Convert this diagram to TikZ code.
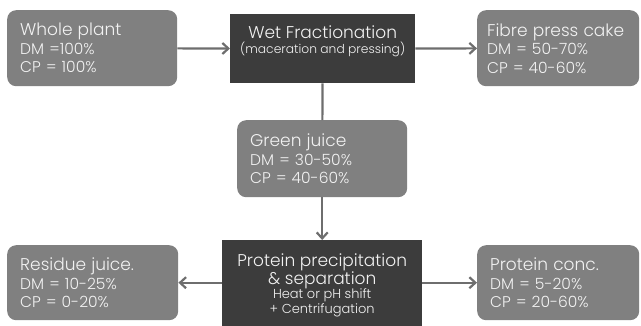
\documentclass[tikz,border=0pt]{standalone}
\usepackage{fontspec}
\setmainfont{Poppins}[UprightFont=* Light]
\usepackage{tikz}
\usetikzlibrary{arrows.meta}
\usetikzlibrary{positioning}
\definecolor{boxgray}{HTML}{808080}
\definecolor{procgray}{HTML}{3C3C3C}
\definecolor{linegray}{HTML}{6E6E6E}
\definecolor{textwhite}{HTML}{F2F2F2}
\newcommand\Titel[1]{{\fontsize{17}{20}\selectfont #1}}
\newcommand\Klein[1]{{\fontsize{13}{16}\selectfont #1}}
\tikzset{
  Stage/.style={fill=boxgray, rounded corners=9pt, text=textwhite, align=left,
    anchor=north west, inner xsep=13pt, inner ysep=0pt,
    font=\fontsize{15.5}{18.5}\selectfont}, % graue Kaesten
  Process/.style={fill=procgray, text=textwhite, align=center,
    anchor=north west, inner sep=0pt}, % dunkle Kaesten
  Linie/.style={line width=2.2pt, draw=linegray},
  Pfeil/.style={Linie, ->}
}

\begin{document}
\begin{tikzpicture}[x=1pt, y=-1pt,
>={Straight Barb[length=6pt,width=11pt]} % Pfeilspitzen
]
\useasboundingbox (0,0) rectangle (641,325);

%Kaesten
\node[Stage, text width=144pt, minimum height=76pt] (plant) at (7,10)
  {\Titel{Whole plant}\\DM =100\%\\CP = 100\%};
\node[Process, minimum width=185pt, minimum height=69pt] (wet) at (230,14)
  {\Titel{Wet Fractionation}\\[3pt]{\fontsize{12.3}{15}\selectfont (maceration and pressing)}\\[0pt]\rule{0pt}{13pt}};
\node[Stage, text width=142pt, inner xsep=10pt, minimum height=76pt] (cake) at (477,10)
  {\Titel{Fibre press cake}\\DM = 50-70\%\\CP = 40-60\%};
\node[Stage, text width=144pt, minimum height=77pt] (green) at (237,120)
  {\Titel{Green juice}\\DM = 30-50\%\\CP = 40-60\%};
\node[Process, minimum width=200pt, minimum height=90pt] (prot) at (222,240)
  {\Titel{Protein precipitation}\\\Titel{\& separation}\\[-1pt]
   \Klein{Heat or pH shift}\\\Klein{+ Centrifugation}};
\node[Stage, text width=145pt, minimum height=75pt] (res) at (7,245)
  {\Titel{Residue juice.}\\DM = 10-25\%\\CP = 0-20\%};
\node[Stage, text width=136pt, minimum height=75pt] (conc) at (477,245)
  {\Titel{Protein conc.}\\DM = 5-20\%\\CP = 20-60\%};

%Pfeile
\draw[Pfeil] (plant) -- (wet);
\draw[Pfeil] (wet) -- (cake);
\draw[Linie] (wet) -- (green);
\draw[Pfeil] (green) -- (prot);
\draw[Pfeil] (prot.west |- res.east) -- (res);
\draw[Pfeil] (prot.east |- conc.west) -- (conc);

\end{tikzpicture}
\end{document}
